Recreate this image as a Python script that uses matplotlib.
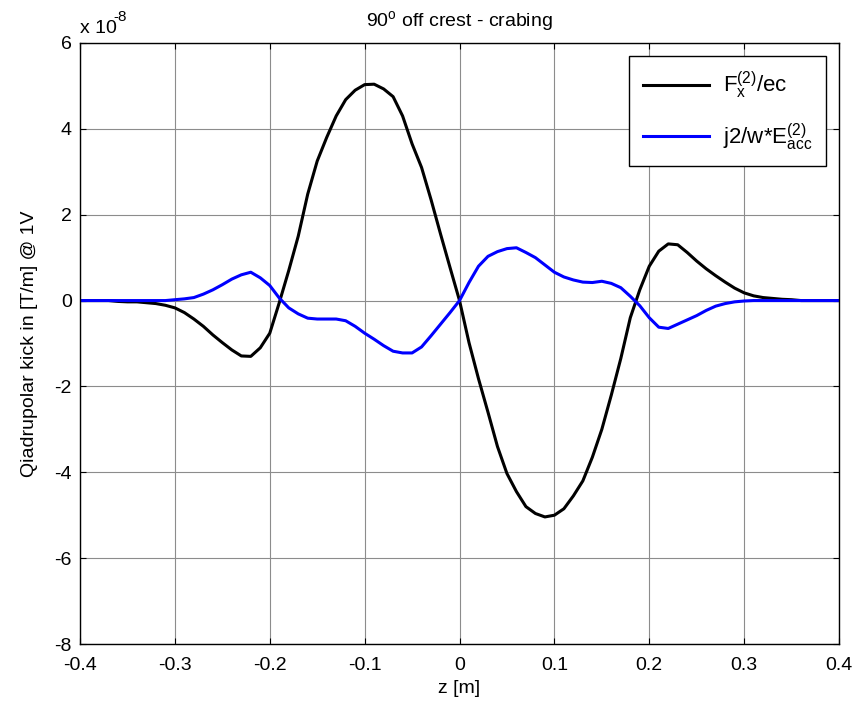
import numpy as np
import matplotlib
matplotlib.use("Agg")
import matplotlib.pyplot as plt

plt.rcParams['font.family'] = ['Liberation Sans', 'DejaVu Sans']
plt.rcParams['mathtext.fontset'] = 'custom'
plt.rcParams['mathtext.rm'] = 'Liberation Sans'
plt.rcParams['mathtext.it'] = 'Liberation Sans'

# z positions [m], every 0.01 from -0.40 to 0.40
z = np.round(np.linspace(-0.40, 0.40, 81), 2)

# F_x^(2)/ec, in units of 1e-8 (one row per 0.1 m)
fx_ec = [
    0.0, 0.0, 0.0, 0.0, -0.02, -0.03, -0.03, -0.05, -0.07, -0.11,      # -0.40 .. -0.31
    -0.17, -0.28, -0.43, -0.60, -0.80, -0.98, -1.15, -1.29, -1.30, -1.10,  # -0.30 .. -0.21
    -0.76, -0.05, 0.70, 1.50, 2.48, 3.25, 3.80, 4.30, 4.68, 4.90,      # -0.20 .. -0.11
    5.03, 5.04, 4.93, 4.75, 4.30, 3.65, 3.10, 2.35, 1.55, 0.77,        # -0.10 .. -0.01
    0.0, -0.98, -1.82, -2.60, -3.40, -4.03, -4.45, -4.80, -4.96, -5.04,  # 0.00 .. 0.09
    -5.00, -4.85, -4.55, -4.20, -3.65, -3.00, -2.20, -1.35, -0.40, 0.25,  # 0.10 .. 0.19
    0.80, 1.15, 1.32, 1.30, 1.12, 0.92, 0.74, 0.58, 0.43, 0.29,        # 0.20 .. 0.29
    0.18, 0.11, 0.07, 0.05, 0.03, 0.02, 0.0, 0.0, 0.0, 0.0,            # 0.30 .. 0.39
    0.0,                                                               # 0.40
]

# j2/w*E_acc^(2), in units of 1e-8
j2w_eacc = [
    0.0, 0.0, 0.0, 0.0, 0.0, 0.0, 0.0, 0.0, 0.0, 0.0,                  # -0.40 .. -0.31
    0.02, 0.04, 0.07, 0.15, 0.25, 0.37, 0.50, 0.60, 0.66, 0.53,        # -0.30 .. -0.21
    0.35, 0.06, -0.17, -0.31, -0.41, -0.43, -0.43, -0.43, -0.47, -0.60,  # -0.20 .. -0.11
    -0.76, -0.90, -1.05, -1.18, -1.22, -1.22, -1.08, -0.82, -0.55, -0.28,  # -0.10 .. -0.01
    0.0, 0.42, 0.80, 1.03, 1.14, 1.21, 1.23, 1.12, 1.00, 0.83,         # 0.00 .. 0.09
    0.66, 0.55, 0.48, 0.43, 0.42, 0.45, 0.40, 0.30, 0.10, -0.12,       # 0.10 .. 0.19
    -0.40, -0.62, -0.65, -0.55, -0.45, -0.35, -0.23, -0.13, -0.07, -0.03,  # 0.20 .. 0.29
    -0.01, 0.0, 0.0, 0.0, 0.0, 0.0, 0.0, 0.0, 0.0, 0.0,                # 0.30 .. 0.39
    0.0,                                                               # 0.40
]

x_ticks = [-0.4, -0.3, -0.2, -0.1, 0, 0.1, 0.2, 0.3, 0.4]
x_labels = ['-0.4', '-0.3', '-0.2', '-0.1', '0', '0.1', '0.2', '0.3', '0.4']
y_ticks = [-8, -6, -4, -2, 0, 2, 4, 6]
y_labels = ['-8', '-6', '-4', '-2', '0', '2', '4', '6']

fig = plt.figure(figsize=(8.68, 7.07), dpi=100)
ax = fig.add_axes([0.0922, 0.0891, 0.8744, 0.8501])

ax.plot(z, fx_ec, color='black', lw=2.2, label=r'F$_x^{(2)}$/ec')
ax.plot(z, j2w_eacc, color='blue', lw=2.2, label=r'j2/w*E$_{acc}^{(2)}$')

ax.set_xlim(-0.4, 0.4)
ax.set_ylim(-8, 6)
ax.set_xticks(x_ticks)
ax.set_xticklabels(x_labels)
ax.set_yticks(y_ticks)
ax.set_yticklabels(y_labels)
ax.grid(True, color='#8c8c8c', lw=0.8)
ax.tick_params(direction='in', top=True, right=True, length=4, labelsize=14)
ax.tick_params(axis='x', pad=9)
ax.tick_params(axis='y', pad=6)
for sp in ax.spines.values():
    sp.set_linewidth(1.0)

ax.set_xlabel('z [m]', fontsize=14, labelpad=5)
ax.set_ylabel('Qiadrupolar kick in [T/m] @ 1V', fontsize=14, labelpad=12)
ax.set_title(r'90$^{\rm o}$ off crest - crabing', fontsize=14, pad=12)

# MATLAB-style exponent label above the y axis
ax.annotate('x 10', xy=(0, 1), xycoords='axes fraction', xytext=(0, 4),
            textcoords='offset points', fontsize=14, ha='left', va='bottom')
ax.annotate('-8', xy=(0, 1), xycoords='axes fraction', xytext=(24, 14),
            textcoords='offset points', fontsize=11, ha='left', va='bottom')

leg = ax.legend(loc='upper right', fontsize=16, fancybox=False, framealpha=1,
                edgecolor='black', handlelength=3.0, borderaxespad=0.6,
                labelspacing=0.9, borderpad=0.6, handletextpad=0.6)
leg.get_frame().set_linewidth(1.0)

fig.savefig('out.png', dpi=100)
